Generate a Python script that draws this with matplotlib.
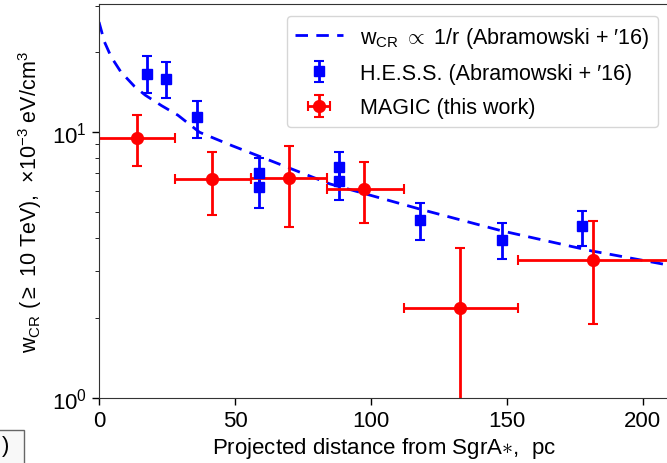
import numpy as np
import matplotlib
matplotlib.use("Agg")
import matplotlib.pyplot as plt
from matplotlib.patches import Rectangle

plt.rcParams['font.family'] = ['Liberation Sans', 'DejaVu Sans']
plt.rcParams['mathtext.fontset'] = 'custom'
plt.rcParams['mathtext.rm'] = 'Liberation Sans'
plt.rcParams['mathtext.it'] = 'Liberation Sans:italic'
plt.rcParams['mathtext.bf'] = 'Liberation Sans:bold'

# model curve w_CR ~ 1/r
model_r = [0, 2, 4.5, 8, 13, 17, 23, 29, 37, 49, 62, 74, 85, 118, 148, 181, 209, 215]
model_w = [26.0, 21.9, 19.2, 16.9, 14.9, 13.8, 12.6, 11.6, 10.0, 8.9, 7.9, 7.07, 6.39,
           5.14, 4.26, 3.58, 3.17, 3.10]

# H.E.S.S. points
hess_x = [17.5, 24.6, 36.2, 58.9, 58.9, 88.3, 88.3, 118.1, 148.1, 177.8]
hess_y = [16.6, 15.9, 11.4, 7.03, 6.21, 7.38, 6.58, 4.69, 3.93, 4.43]
hess_hi = [19.3, 18.4, 13.15, 8.0, 7.1, 8.45, 7.6, 5.42, 4.56, 5.07]
hess_lo = [14.06, 13.5, 9.5, 6.2, 5.19, 6.4, 5.58, 3.94, 3.34, 3.74]

# MAGIC points
magic_x = [13.9, 41.7, 69.9, 97.6, 132.8, 181.8]
magic_y = [9.52, 6.66, 6.73, 6.12, 2.19, 3.31]
magic_hi = [11.65, 8.45, 8.9, 7.71, 3.67, 4.65]
magic_lo = [7.45, 4.88, 4.39, 4.56, 0.5, 1.90]
magic_xlo = [0, 28, 56, 84, 112, 154]
magic_xhi = [28, 56, 84, 112, 154, 210]

hx, hy = np.array(hess_x), np.array(hess_y)
mx, my = np.array(magic_x), np.array(magic_y)

fig = plt.figure(figsize=(6.67, 4.64), dpi=100)
ax = fig.add_axes([99 / 667, 65 / 464, 571 / 667, 394 / 464])

ax.plot(model_r, model_w, '--', color='#0000ff', lw=2, dashes=(4.5, 3),
        label=r'w$_{\rm CR}$ $\propto$ 1/r (Abramowski + ′16)')
ax.errorbar(hx, hy, yerr=[hy - np.array(hess_lo), np.array(hess_hi) - hy],
            fmt='s', color='#0000ff', ms=7, elinewidth=2, capsize=3.5, capthick=1.5,
            label='H.E.S.S. (Abramowski + ′16)')
ax.errorbar(mx, my, yerr=[my - np.array(magic_lo), np.array(magic_hi) - my],
            xerr=[mx - np.array(magic_xlo), np.array(magic_xhi) - mx],
            fmt='o', color='#ff0000', ms=8.5, elinewidth=2, capsize=3.5, capthick=1.5,
            label='MAGIC (this work)')

ax.set_yscale('log')
ax.set_ylim(1, 30.4)
ax.set_xlim(0, 210)
ax.set_xticks([0, 50, 100, 150, 200])
ax.tick_params(labelsize=16, width=1, length=5)
ax.tick_params(which='minor', length=3)
for s in ax.spines.values():
    s.set_color('#333333')

ax.set_xlabel(r'Projected distance from SgrA$\ast$,  pc', fontsize=16, labelpad=3)
ax.set_ylabel(r'w$_{\rm CR}$ ($\geq$ 10 TeV),  $\times$10$^{-3}$ eV/cm$^3$', fontsize=15.5, labelpad=6)

leg = ax.legend(loc='upper right', bbox_to_anchor=(658 / 667, 1 - 17 / 464),
                bbox_transform=fig.transFigure, borderaxespad=0, fontsize=15.5,
                handlelength=2.2, labelspacing=0.62, framealpha=0.8)
leg.get_frame().set_edgecolor('#cccccc')

# fragment of a neighbouring box in the lower left corner
fig.patches.append(Rectangle((-10 / 667, -5 / 464), 34 / 667, 38 / 464, transform=fig.transFigure,
                             fc='#f8f8f8', ec='#666666', lw=1))
fig.text(2 / 667, (464 - 447) / 464, ')', fontsize=16, va='center', ha='left')

fig.savefig('out.png', dpi=100)
